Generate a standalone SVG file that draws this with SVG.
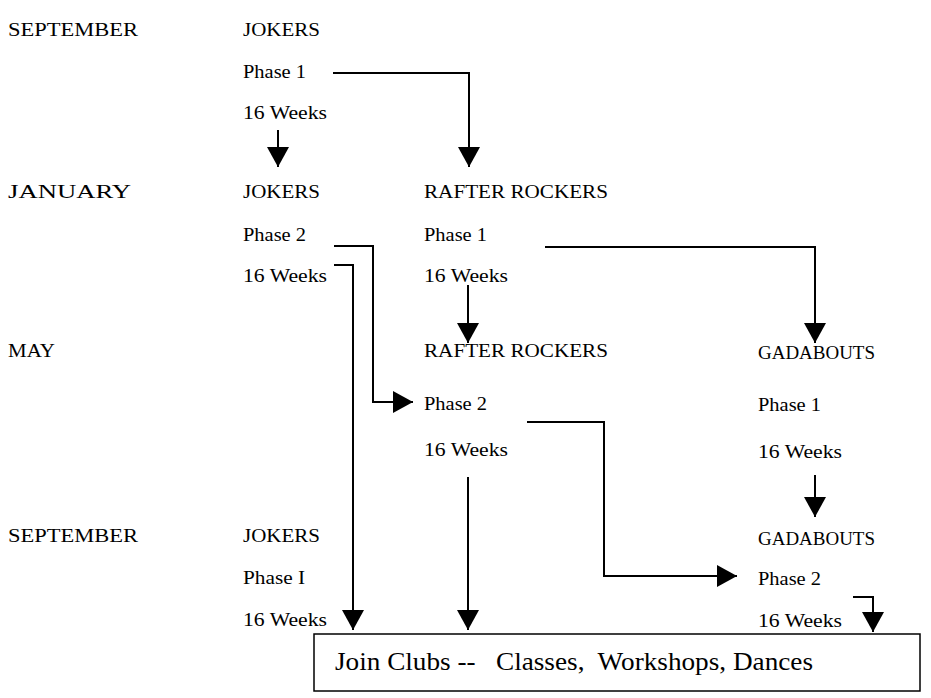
<svg xmlns="http://www.w3.org/2000/svg" width="931" height="698" viewBox="0 0 931 698">
<style>
text{font-family:"Liberation Serif","Times New Roman",serif;font-size:19px;fill:#000}
.big{font-size:25px}
.c{fill:none;stroke:#000;stroke-width:2}
</style>
<defs>
<marker id="ah" markerUnits="userSpaceOnUse" markerWidth="20" markerHeight="22" refX="20" refY="11" orient="auto" viewBox="0 0 20 22">
<path d="M0,0 L20,11 L0,22 z" fill="#000"/>
</marker>
</defs>
<rect width="931" height="698" fill="#fff"/>
<g id="months">
<text x="8" y="36" textLength="130" lengthAdjust="spacingAndGlyphs">SEPTEMBER</text>
<text x="8" y="198" textLength="123" lengthAdjust="spacingAndGlyphs">JANUARY</text>
<text x="8" y="357" textLength="47" lengthAdjust="spacingAndGlyphs">MAY</text>
<text x="8" y="542" textLength="130" lengthAdjust="spacingAndGlyphs">SEPTEMBER</text>
</g>
<g id="jokers-sep">
<text x="243" y="36" textLength="77" lengthAdjust="spacingAndGlyphs">JOKERS</text>
<text x="243" y="78" textLength="63" lengthAdjust="spacingAndGlyphs">Phase 1</text>
<text x="243" y="119" textLength="84" lengthAdjust="spacingAndGlyphs">16 Weeks</text>
</g>
<g id="jokers-jan">
<text x="243" y="198" textLength="77" lengthAdjust="spacingAndGlyphs">JOKERS</text>
<text x="243" y="241" textLength="63" lengthAdjust="spacingAndGlyphs">Phase 2</text>
<text x="243" y="282" textLength="84" lengthAdjust="spacingAndGlyphs">16 Weeks</text>
</g>
<g id="rafter-jan">
<text x="424" y="198" textLength="184" lengthAdjust="spacingAndGlyphs">RAFTER ROCKERS</text>
<text x="424" y="241" textLength="63" lengthAdjust="spacingAndGlyphs">Phase 1</text>
<text x="424" y="282" textLength="84" lengthAdjust="spacingAndGlyphs">16 Weeks</text>
</g>
<g id="rafter-may">
<text x="424" y="357" textLength="184" lengthAdjust="spacingAndGlyphs">RAFTER ROCKERS</text>
<text x="424" y="410" textLength="63" lengthAdjust="spacingAndGlyphs">Phase 2</text>
<text x="424" y="456" textLength="84" lengthAdjust="spacingAndGlyphs">16 Weeks</text>
</g>
<g id="gadabouts-may">
<text x="758" y="359" textLength="117" lengthAdjust="spacingAndGlyphs">GADABOUTS</text>
<text x="758" y="411" textLength="63" lengthAdjust="spacingAndGlyphs">Phase 1</text>
<text x="758" y="458" textLength="84" lengthAdjust="spacingAndGlyphs">16 Weeks</text>
</g>
<g id="jokers-sep2">
<text x="243" y="542" textLength="77" lengthAdjust="spacingAndGlyphs">JOKERS</text>
<text x="243" y="584" textLength="62" lengthAdjust="spacingAndGlyphs">Phase I</text>
<text x="243" y="626" textLength="84" lengthAdjust="spacingAndGlyphs">16 Weeks</text>
</g>
<g id="gadabouts-sep">
<text x="758" y="545" textLength="117" lengthAdjust="spacingAndGlyphs">GADABOUTS</text>
<text x="758" y="585" textLength="63" lengthAdjust="spacingAndGlyphs">Phase 2</text>
<text x="758" y="627" textLength="84" lengthAdjust="spacingAndGlyphs">16 Weeks</text>
</g>
<g id="clubs-box">
<rect x="314" y="634" width="606" height="57" fill="#fff" stroke="#000" stroke-width="1.5"/>
<text class="big" x="335" y="670" textLength="478" lengthAdjust="spacingAndGlyphs" xml:space="preserve">Join Clubs --   Classes,  Workshops, Dances</text>
</g>
<g id="connectors" class="c">
<path class="c" d="M278,130 V167" marker-end="url(#ah)"/>
<path class="c" d="M333,73 H469 V167" marker-end="url(#ah)"/>
<path class="c" d="M334,246 H373 V402 H413" marker-end="url(#ah)"/>
<path class="c" d="M334,265 H353 V630" marker-end="url(#ah)"/>
<path class="c" d="M545,247 H815 V343" marker-end="url(#ah)"/>
<path class="c" d="M468,285 V343" marker-end="url(#ah)"/>
<path class="c" d="M527,422 H604 V576 H737" marker-end="url(#ah)"/>
<path class="c" d="M468,477 V630" marker-end="url(#ah)"/>
<path class="c" d="M815,475 V517" marker-end="url(#ah)"/>
<path class="c" d="M853,597 H873 V632" marker-end="url(#ah)"/>
</g>
</svg>
